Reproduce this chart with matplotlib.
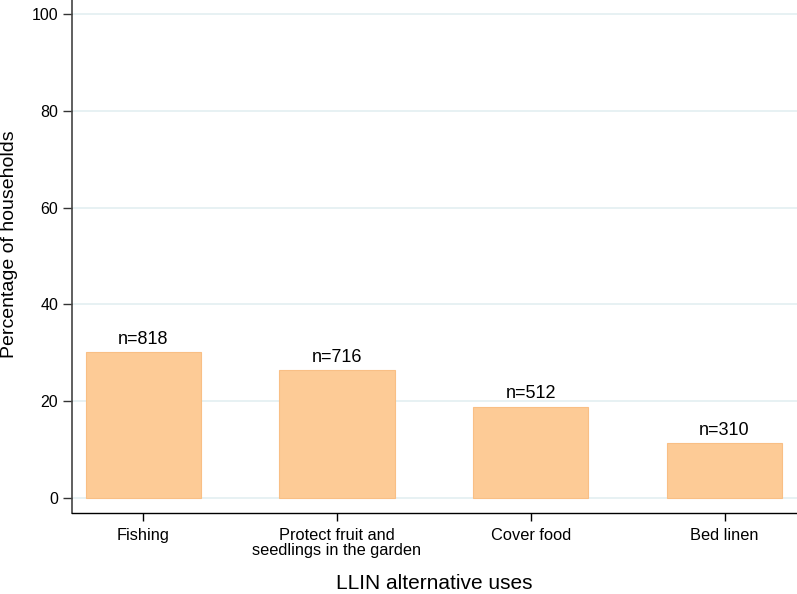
import numpy as np
import matplotlib.pyplot as plt

plt.rcParams['font.family'] = ['Liberation Sans', 'DejaVu Sans']

# data
uses = ["Fishing", "Protect fruit and\nseedlings in the garden", "Cover food", "Bed linen"]
counts = [818, 716, 512, 310]
percent = [30.2, 26.4, 18.9, 11.4]

fig = plt.figure(figsize=(7.97, 5.94), dpi=100)
ax = fig.add_axes([72/797, 81/594, 1 - 72/797, 1 - 81/594])

x = np.arange(1, len(uses) + 1)
for yv in range(0, 101, 20):
    ax.axhline(yv, color="#e3eff1", lw=1.2, zorder=0)
ax.bar(x, percent, width=0.595, color="#fdcb96", edgecolor="#f9bf85", lw=0.8, zorder=2)
for xi, p, n in zip(x, percent, counts):
    ax.text(xi, p + 1.7, f"n={n}", ha="center", va="baseline", fontsize=13)

ax.set_xlim(0.632, 4.374)
ax.set_ylim(-3.1, 102.9)
ax.set_yticks(range(0, 101, 20))
ax.set_xticks(x)
ax.set_xticklabels(uses, fontsize=11.8, linespacing=1.0)
ax.tick_params(axis="y", labelsize=11.5, length=6.5, width=1, color="#333333", pad=3.5)
ax.tick_params(axis="x", length=6, width=1, pad=5)
for s in ["top", "right"]:
    ax.spines[s].set_visible(False)
ax.spines["left"].set_color("#444444")
ax.spines["left"].set_linewidth(1.2)
ax.spines["bottom"].set_linewidth(1)
ax.set_ylabel("Percentage of households", fontsize=14)
ax.yaxis.set_label_coords(-0.075, 0.524)
ax.set_xlabel("LLIN alternative uses", fontsize=15, labelpad=11)

fig.savefig("out.png", dpi=100)
